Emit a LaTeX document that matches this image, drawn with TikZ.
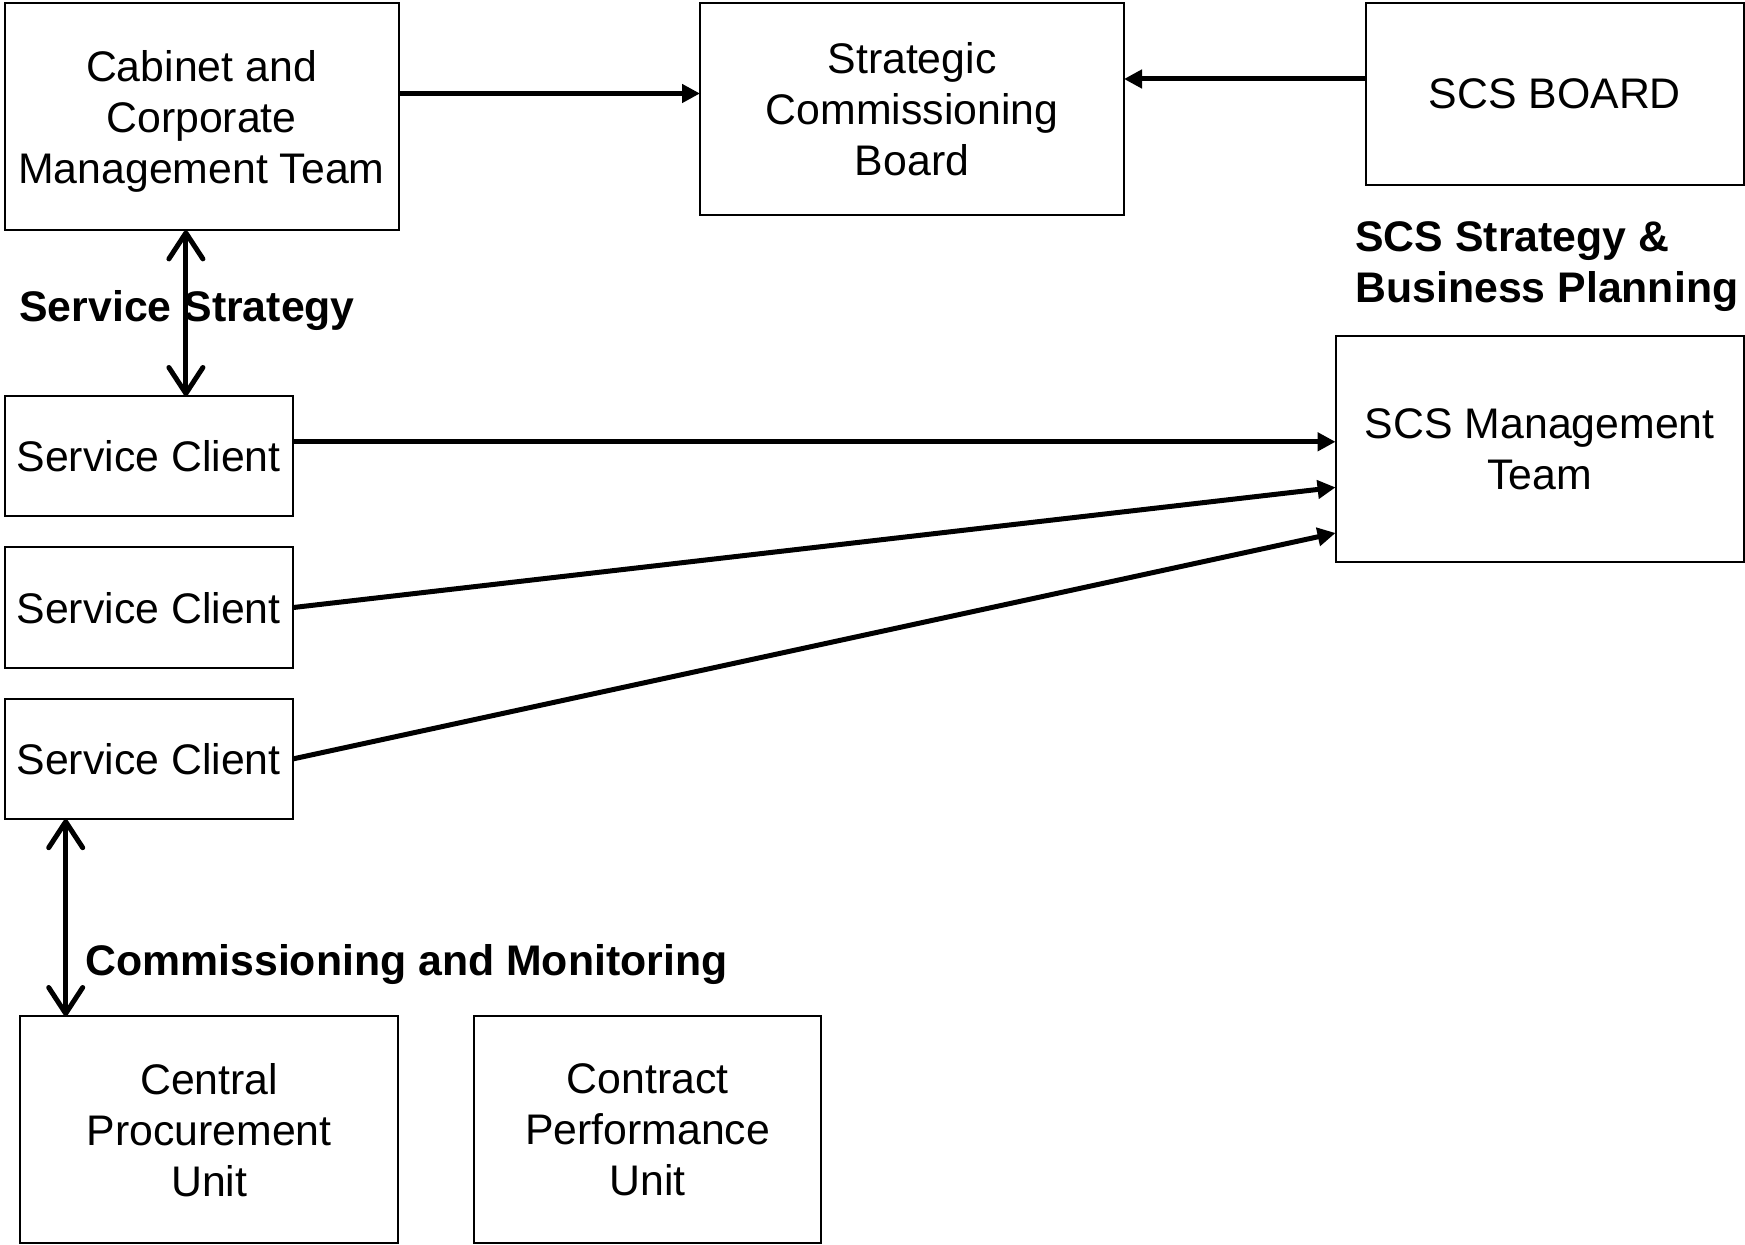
\documentclass[tikz,border=0pt]{standalone}
\usepackage{fontspec}
\setmainfont{Liberation Sans}
\usetikzlibrary{arrows.meta}
\begin{document}
\begin{tikzpicture}[x=0.5pt, y=-0.5pt,
    box/.style={draw, line width=1pt, inner sep=0pt, outer sep=0pt, align=center,
      text depth=0pt, font=\fontsize{21.4}{25.5}\selectfont},
    lbl/.style={anchor=west, inner sep=0pt, align=left,
      font=\fontsize{21.4}{25.5}\selectfont\bfseries},
    arr/.style={line width=2.5pt, -{Triangle[length=9pt, width=9pt]}},
    dbl/.style={line width=2.5pt, {Straight Barb[length=13pt, width=17pt, round]}-{Straight Barb[length=13pt, width=17pt, round]}}]
  \useasboundingbox (0,0) rectangle (1745,1245);
  % top row
  \node[box, minimum width=197pt, minimum height=113.5pt] (cab) at (201.5,116.9)
    {Cabinet and\\Corporate\\Management Team};
  \node[box, minimum width=212pt, minimum height=105.75pt] (scb) at (912,109)
    {Strategic\\Commissioning\\Board};
  \node[box, minimum width=189.25pt, minimum height=90.7pt] (board) at (1554.8,94)
    {SCS BOARD};
  \node[box, minimum width=204.25pt, minimum height=113pt] (smt) at (1539.8,449)
    {SCS Management\\Team};
  % service clients
  \node[box, minimum width=144pt, minimum height=60.2pt] (sc1) at (148.6,456.2) {Service Client};
  \node[box, minimum width=144pt, minimum height=60.2pt] (sc2) at (148.6,607.6) {Service Client};
  \node[box, minimum width=144pt, minimum height=60.2pt] (sc3) at (148.6,759) {Service Client};
  % bottom row
  \node[box, minimum width=189.2pt, minimum height=113.5pt] (cpu) at (209.2,1129.5)
    {Central\\Procurement\\Unit};
  \node[box, minimum width=173.65pt, minimum height=113.5pt] (cpf) at (647.6,1129.5)
    {Contract\\Performance\\Unit};
  % labels
  \node[lbl] (lstrat) at (19,310.5) {Service Strategy};
  \node[lbl] (lplan) at (1355,266.5) {SCS Strategy \&\\Business Planning};
  \node[lbl] (lmon) at (85,965) {Commissioning and Monitoring};
  % connectors
  \draw[arr] ([yshift=11.7pt]cab.east) -- ([yshift=11.7pt]cab.east -| scb.west);
  \draw[arr] ([yshift=7.5pt]board.west) -- ([yshift=7.5pt]board.west -| scb.east);
  \draw[dbl] ([xshift=-7.8pt]cab.south) -- ([xshift=-7.8pt]cab.south |- sc1.north);
  \draw[arr] ([yshift=7.2pt]sc1.east) -- ([yshift=7.2pt]sc1.east -| smt.west);
  \draw[arr] (sc2.east) -- ([yshift=-19.2pt]smt.west);
  \draw[arr] (sc3.east) -- ([yshift=-42pt]smt.west);
  \draw[dbl] ([xshift=-41.45pt]sc3.south) -- ([xshift=-41.45pt]sc3.south |- cpu.north);
\end{tikzpicture}
\end{document}
